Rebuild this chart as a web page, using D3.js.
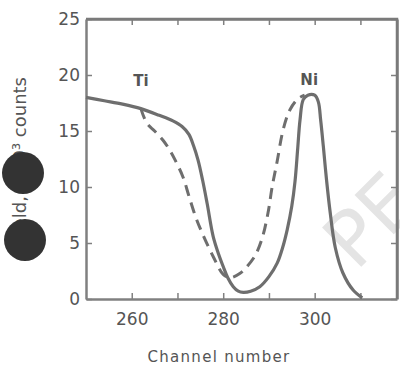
<!DOCTYPE html>
<html><head><meta charset="utf-8">
<script src="https://cdn.jsdelivr.net/npm/d3@7"></script>
<style>body{margin:0;background:#fff}svg{display:block}</style>
</head><body>
<script>
// Data
const solidChannel = [250,254,258,262,266,269,271,272.5,273.5,274.5,275.5,276.5,277.8,279,280,281,282.2,283.3,284.4,286,288,290,291.8,293,294,295,295.7,296.3,296.8,297.5,298.5,300,300.8,301.3,301.9,302.6,303.4,304.5,306.2,308.4,310.4];
const solidCounts  = [18.0,17.7,17.4,17.0,16.4,15.9,15.4,14.7,13.7,12.4,10.6,8.5,5.6,4.0,2.9,1.9,1.1,0.7,0.6,0.7,1.1,2.0,3.2,4.6,6.2,8.3,10.5,13.5,16.0,17.8,18.2,18.2,17.6,16.0,13.6,10.6,7.7,4.6,2.3,0.8,0.1];
const dashChannel  = [262,263.3,265,266.8,268.3,269.5,271.2,272.5,274,275.5,277.8,280,281.5,283.7,285.2,287,288.5,289.8,290.7,291.8,293.1,294.6,296.4,297.8];
const dashCounts   = [17.0,15.7,15.0,14.2,13.3,12.4,10.9,9.2,7.3,5.8,3.8,2.2,1.9,2.3,2.9,3.9,5.4,7.7,10.0,12.3,15.1,16.9,17.9,18.2];
const xTicks = [260,270,280,290,300,310];
const xTickLabels = [260,280,300];
const yTicks = [0,5,10,15,20,25];
const peakLabels = [{text:"Ti", channel:262, counts:19.0},{text:"Ni", channel:298.8, counts:19.1}];
const xTitle = "Channel number";
const yTitleParts = ["Yield,", "10\u00B3 counts"];
const watermark = "PE";

const W = 400, H = 368;
const m = {left:86, right:3, top:19, bottom:69};
const svg = d3.select("body").append("svg").attr("width",W).attr("height",H);
svg.append("rect").attr("width",W).attr("height",H).attr("fill","#fff");

const x = d3.scaleLinear().domain([250,318]).range([m.left, W-m.right]);
const y = d3.scaleLinear().domain([0,25]).range([H-m.bottom, m.top]);

const axisColor = "#808080", textColor = "#555";
const font = "DejaVu Sans, sans-serif";

// watermark
svg.append("text").attr("transform","translate(356,272) rotate(-45)")
  .attr("font-family",font).attr("font-size",76).attr("fill","#e4e4e4")
  .text(watermark);

const noLabel = () => "";
function styleAxis(g){
  g.select(".domain").attr("stroke",axisColor).attr("stroke-width",2.5);
  g.selectAll(".tick line").attr("stroke",axisColor).attr("stroke-width",1.5);
  g.selectAll(".tick text").attr("fill",textColor).attr("font-family",font).attr("font-size",17);
}
const gBottom = svg.append("g").attr("transform",`translate(0,${y(0)})`)
  .call(d3.axisBottom(x).tickValues(xTicks).tickSizeInner(-6).tickSizeOuter(0).tickPadding(14)
    .tickFormat(d=> xTickLabels.includes(d)? d : ""));
styleAxis(gBottom);
const gTop = svg.append("g").attr("transform",`translate(0,${y(25)})`)
  .call(d3.axisTop(x).tickValues(xTicks).tickSizeInner(-6).tickSizeOuter(0).tickFormat(noLabel));
styleAxis(gTop);
const gLeft = svg.append("g").attr("transform",`translate(${x(250)},0)`)
  .call(d3.axisLeft(y).tickValues(yTicks).tickSizeInner(-6).tickSizeOuter(0).tickPadding(6));
styleAxis(gLeft);
const gRight = svg.append("g").attr("transform",`translate(${x(318)},0)`)
  .call(d3.axisRight(y).tickValues(yTicks).tickSizeInner(-6).tickSizeOuter(0).tickFormat(noLabel));
styleAxis(gRight);

const line = d3.line().x(d=>x(d[0])).y(d=>y(d[1])).curve(d3.curveCatmullRom.alpha(0.5));
svg.append("path").datum(dashChannel.map((c,i)=>[c,dashCounts[i]]))
  .attr("d",line).attr("fill","none").attr("stroke","#6e6e6e").attr("stroke-width",3)
  .attr("stroke-dasharray","11,7");
svg.append("path").datum(solidChannel.map((c,i)=>[c,solidCounts[i]]))
  .attr("d",line).attr("fill","none").attr("stroke","#6e6e6e").attr("stroke-width",3.2);

// frame (drawn on top)
const x0 = x(250), x1 = x(318), y0 = y(0), y1 = y(25);
svg.append("path")
  .attr("d",`M${x0},${y1}L${x1},${y1}L${x1},${y0}`)
  .attr("fill","none").attr("stroke","#7a7a7a").attr("stroke-width",2.5);

svg.selectAll(".pk").data(peakLabels).enter().append("text")
  .attr("x",d=>x(d.channel)).attr("y",d=>y(d.counts)).attr("text-anchor","middle")
  .attr("font-family",font).attr("font-size",15).attr("font-weight","bold").attr("fill","#555")
  .text(d=>d.text);

svg.append("text").attr("x",219).attr("y",362).attr("text-anchor","middle")
  .attr("font-family",font).attr("font-size",15).attr("letter-spacing",1.3).attr("fill",textColor)
  .text(xTitle);
svg.append("text").attr("transform","translate(26,77) rotate(-90)").attr("text-anchor","end")
  .attr("font-family",font).attr("font-size",18).attr("fill",textColor)
  .text(yTitleParts[1]);
svg.append("text").attr("transform","translate(26,196) rotate(-90)").attr("text-anchor","end")
  .attr("font-family",font).attr("font-size",18).attr("fill",textColor)
  .text(yTitleParts[0]);
// ink blots over the y title
svg.append("circle").attr("cx",23).attr("cy",173).attr("r",21).attr("fill","#333");
svg.append("circle").attr("cx",25).attr("cy",240).attr("r",21).attr("fill","#333");
</script>
</body></html>
